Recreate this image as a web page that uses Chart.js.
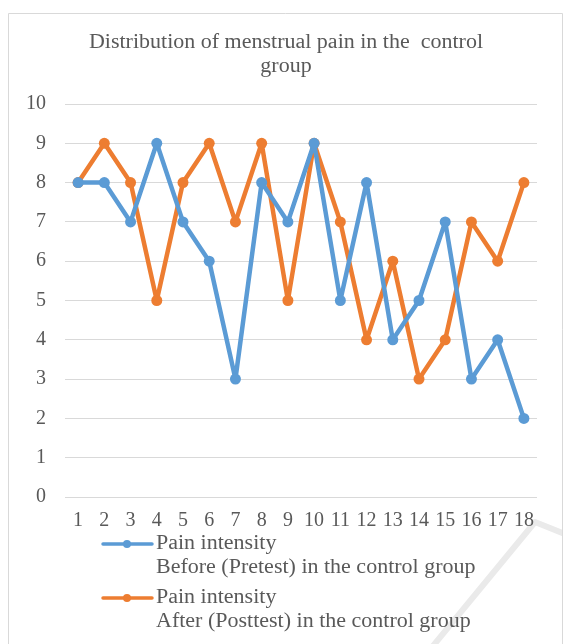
<!DOCTYPE html>
<html>
<head>
<meta charset="utf-8">
<script src="https://cdn.jsdelivr.net/npm/chart.js@4.4.1/dist/chart.umd.min.js"></script>
<style>
  html, body { margin: 0; padding: 0; background: #ffffff; }
  #wrap { width: 563px; height: 644px; position: relative; }
</style>
</head>
<body>
<div id="wrap"><canvas id="c" width="563" height="644"></canvas></div>
<script>
// Participants (x axis categories)
const categories = ['1','2','3','4','5','6','7','8','9','10','11','12','13','14','15','16','17','18'];
// Pain intensity before (pretest)
const pretest = [8, 8, 7, 9, 7, 6, 3, 8, 7, 9, 5, 8, 4, 5, 7, 3, 4, 2];
// Pain intensity after (posttest)
const posttest = [8, 9, 8, 5, 8, 9, 7, 9, 5, 9, 7, 4, 6, 3, 4, 7, 6, 8];
// Value axis ticks
const yTicks = [0, 1, 2, 3, 4, 5, 6, 7, 8, 9, 10];
// Series names (two lines each)
const pretestName = ['Pain intensity', 'Before (Pretest) in the control group'];
const posttestName = ['Pain intensity', 'After (Posttest) in the control group'];
// Chart title lines
const titleLines = ['Distribution of menstrual pain in the  control', 'group'];

const FONT = '"Liberation Serif", "Times New Roman", serif';
const TEXT = '#595959';
const BLUE = '#5B9BD5';
const ORANGE = '#ED7D31';
const WIDE = 1.1; // horizontal stretch of title and legend text

// Draws text slightly widened, anchored at (x, y)
function wideText(ctx, text, x, y, align) {
  ctx.save();
  ctx.translate(x, y);
  ctx.scale(WIDE, 1);
  ctx.textAlign = align;
  ctx.textBaseline = 'middle';
  ctx.fillText(text, 0, 0);
  ctx.restore();
}

// Frame, faint background mark and title
const framePlugin = {
  id: 'frame',
  beforeDraw(chart) {
    const ctx = chart.ctx;
    ctx.save();
    ctx.fillStyle = '#ffffff';
    ctx.fillRect(0, 0, chart.width, chart.height);
    ctx.strokeStyle = '#EAEAEA';
    ctx.lineWidth = 6;
    ctx.lineCap = 'butt';
    ctx.lineJoin = 'round';
    ctx.beginPath();
    ctx.moveTo(428, 652);
    ctx.lineTo(535, 522);
    ctx.lineTo(570, 536);
    ctx.stroke();
    ctx.strokeStyle = '#D9D9D9';
    ctx.lineWidth = 1;
    ctx.strokeRect(8.5, 13.5, 554, 700);
    ctx.fillStyle = TEXT;
    ctx.font = '20px ' + FONT;
    titleLines.forEach((t, i) => wideText(ctx, t, 286, 43 + i * 23.5, 'center'));
    ctx.restore();
  }
};

// Legend with line+marker sample and multi-line names
const legendPlugin = {
  id: 'sideLegend',
  afterDraw(chart) {
    const ctx = chart.ctx;
    ctx.save();
    const rows = [544, 598];
    chart.data.datasets.forEach((ds, i) => {
      const y = rows[i];
      ctx.strokeStyle = ds.borderColor;
      ctx.lineWidth = 3.5;
      ctx.lineCap = 'round';
      ctx.beginPath();
      ctx.moveTo(103, y);
      ctx.lineTo(152, y);
      ctx.stroke();
      ctx.fillStyle = ds.borderColor;
      ctx.beginPath();
      ctx.arc(127, y, 4, 0, Math.PI * 2);
      ctx.fill();
      ctx.fillStyle = TEXT;
      ctx.font = '20px ' + FONT;
      ds.label.forEach((t, j) => wideText(ctx, t, 156, y + j * 24, 'left'));
    });
    ctx.restore();
  }
};

new Chart(document.getElementById('c'), {
  type: 'line',
  data: {
    labels: categories,
    datasets: [
      {
        label: pretestName,
        data: pretest,
        borderColor: BLUE,
        backgroundColor: BLUE,
        borderWidth: 4.5,
        borderJoinStyle: 'round',
        borderCapStyle: 'round',
        pointRadius: 5.5,
        pointBackgroundColor: BLUE,
        pointBorderWidth: 0,
        tension: 0
      },
      {
        label: posttestName,
        data: posttest,
        borderColor: ORANGE,
        backgroundColor: ORANGE,
        borderWidth: 4.5,
        borderJoinStyle: 'round',
        borderCapStyle: 'round',
        pointRadius: 5.5,
        pointBackgroundColor: ORANGE,
        pointBorderWidth: 0,
        tension: 0
      }
    ]
  },
  options: {
    responsive: false,
    animation: false,
    devicePixelRatio: 1,
    layout: { padding: { top: 104, left: 8, right: 26, bottom: 107 } },
    plugins: {
      legend: { display: false },
      title: { display: false },
      tooltip: { enabled: false }
    },
    scales: {
      x: {
        type: 'category',
        offset: true,
        grid: { display: false, drawTicks: false },
        border: { display: false },
        ticks: {
          autoSkip: false,
          maxRotation: 0,
          padding: 12,
          color: TEXT,
          font: { family: FONT, size: 20 }
        },
        afterFit(scale) { scale.height = 40; }
      },
      y: {
        min: 0,
        max: 10,
        grid: { color: '#D9D9D9', lineWidth: 1, drawTicks: false },
        border: { display: false },
        afterBuildTicks(scale) { scale.ticks = yTicks.map(v => ({ value: v })); },
        ticks: {
          padding: 19,
          color: TEXT,
          font: { family: FONT, size: 20 }
        },
        afterFit(scale) { scale.width = 57; }
      }
    }
  },
  plugins: [framePlugin, legendPlugin]
});
</script>
</body>
</html>
